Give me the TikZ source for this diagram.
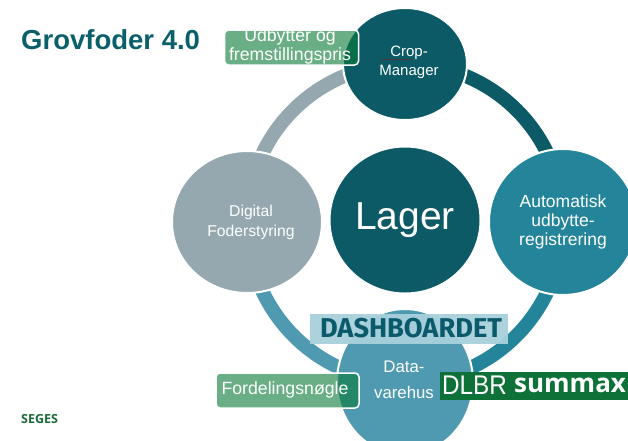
\documentclass[tikz,border=0pt]{standalone}
\usepackage{fontspec}
\setmainfont{Liberation Sans}
\newfontfamily\logofont{Open Sans}
\newfontfamily\dashfont{Fira Sans}
\definecolor{cA}{HTML}{0B5A66}
\definecolor{cB}{HTML}{23849A}
\definecolor{cC}{HTML}{4F9AB0}
\definecolor{cD}{HTML}{95A8AF}
\definecolor{titlecol}{HTML}{0B5F6B}
\definecolor{tagcol}{HTML}{0A7C39}
\definecolor{logogreen}{HTML}{0E7238}
\definecolor{segescol}{HTML}{1C6B3C}
\definecolor{dashbox}{HTML}{A8D1DC}
\definecolor{dashtext}{HTML}{0A5A6B}
\tikzset{
  x=1pt,y=-1pt,
  ringarc/.style={line width=14pt,line cap=butt},
  hub/.style={ellipse,draw=white,line width=2pt,inner sep=0pt,text=white,align=center},
  tag/.style={rounded corners=4pt,draw=white,line width=1.5pt,fill=tagcol,fill opacity=.61,inner sep=0pt},
  tagtext/.style={text=white,align=center,font=\fontsize{17.7}{19.5}\selectfont},
}
\usetikzlibrary{shapes.geometric}
\begin{document}
\begin{tikzpicture}
\useasboundingbox (0,0) rectangle (628,440);
\path[clip] (0,0) rectangle (628,440);
\fill[white] (0,0) rectangle (628,440);
\coordinate (ctop) at (405,64);
\coordinate (cright) at (563,222);
\coordinate (cbot) at (405,382);
\coordinate (cleft) at (247,222);
\draw[ringarc,cA] (ctop) to[out=0,in=90] (cright);
\draw[ringarc,cB] (cright) to[out=-90,in=0] (cbot);
\draw[ringarc,cC] (cbot) to[out=180,in=-90] (cleft);
\draw[ringarc,cD] (cleft) to[out=90,in=180] (ctop);
\node[hub,fill=cA,minimum width=124pt,minimum height=112pt] (crop) at (ctop) {};
\node[hub,fill=cB,minimum width=148pt,minimum height=146pt] (auto) at (cright) {};
\node[hub,fill=cC,minimum width=136pt,minimum height=146pt] (data) at (cbot) {};
\node[hub,fill=cD,minimum width=150pt,minimum height=142pt] (digital) at (cleft) {};
\node[hub,fill=cA,minimum width=151pt,minimum height=147pt] (lager) at (405,220) {};
\node[text=white,font=\fontsize{39}{40}\selectfont] (lagert) at (405,220) {Lager};
\node[text=white,align=center,font=\fontsize{15}{19}\selectfont] (croptext) at (409,62.5) {Crop-\\Manager};
\draw[red!70!black,opacity=.6,line width=.4pt,densely dotted] (382,59.5) -- (411,59.5);
\node[text=white,align=center,font=\fontsize{17.5}{18.7}\selectfont] (autotext) at (563,222) {Automatisk\\udbytte-\\registrering};
\node[text=white,align=center,font=\fontsize{15.7}{20}\selectfont] (digtext) at (251,222) {Digital\\Foderstyring};
\node[text=white,align=center,font=\fontsize{16.8}{26}\selectfont] (datatext) at (404,379.5) {Data-\\varehus};
\node[tag,minimum width=134pt,minimum height=35pt] (udb) at (291.5,47.5) {};
\node[tagtext] (udbt) at (290,46.5) {Udbytter og\\fremstillingspris};
\node[tag,minimum width=143pt,minimum height=35pt] (ford) at (287.5,390.5) {};
\node[tagtext] (fordt) at (285,389.5) {Fordelingsnøgle};
\node[fill=dashbox,fill opacity=.95,minimum width=198pt,minimum height=30pt,inner sep=0pt] (dash) at (409,329) {};
\node[text=dashtext,font=\dashfont\fontsize{27.2}{27}\selectfont\bfseries] (dasht) at (411,328) {DASHBOARDET};
\node[fill=logogreen,minimum width=190pt,minimum height=28pt,inner sep=0pt] (dlbr) at (535,386) {};
\node[anchor=west,text=white,inner sep=0pt,xscale=.9,font=\fontsize{27}{27}\selectfont] (dlbrt) at (442,385.5) {DLBR};
\node[anchor=west,text=white,inner sep=0pt,font=\logofont\fontsize{26}{26}\selectfont\bfseries] (summ) at (514,385) {summax};
\node[text=titlecol,anchor=west,inner sep=0pt,font=\fontsize{27.5}{27.5}\selectfont\bfseries] (title) at (21,40) {Grovfoder 4.0};
\node[text=segescol,anchor=west,inner sep=0pt,font=\logofont\fontsize{12.5}{12.5}\selectfont\bfseries] (seges) at (21,419) {SEGES};
\end{tikzpicture}
\end{document}
